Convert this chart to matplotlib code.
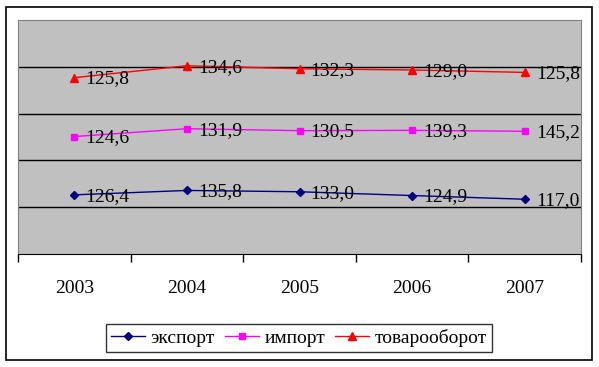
import matplotlib
matplotlib.use('Agg')
import matplotlib.pyplot as plt
import numpy as np

plt.rcParams['font.family'] = ['Liberation Serif', 'DejaVu Serif']

years = ['2003', '2004', '2005', '2006', '2007']
eksport = [126.4, 135.8, 133.0, 124.9, 117.0]
import_ = [124.6, 131.9, 130.5, 139.3, 145.2]
tovarooborot = [125.8, 134.6, 132.3, 129.0, 125.8]

series = [
    ('экспорт', eksport, '#000080', 'D', 4.5),
    ('импорт', import_, '#FF00FF', 's', 5),
    ('товарооборот', tovarooborot, '#FF0000', '^', 6),
]

fig = plt.figure(figsize=(5.99, 3.67), dpi=100)
ax = fig.add_axes([18 / 599, 1 - 254 / 367, 563 / 599, 234 / 367])
ax.set_facecolor('#C0C0C0')

x = np.arange(len(years))
base = np.zeros(len(years))
for name, vals, color, marker, ms in series:
    top = base + np.array(vals)
    ax.plot(x, top, color=color, lw=1, marker=marker, ms=ms, label=name, zorder=3)
    for xi, yi, v in zip(x, top, vals):
        ax.annotate(f'{v:.1f}'.replace('.', ','), (xi, yi), xytext=(8, -1),
                    textcoords='offset points', ha='left', va='center',
                    fontsize=14, zorder=4)
    base = top

ax.set_xlim(-0.5, 4.5)
ax.set_ylim(0, 500)
for g in [100, 200, 300, 400]:
    ax.axhline(g, color='black', lw=1, zorder=1)

ax.set_yticks([])
ax.set_xticks(x)
ax.set_xticklabels(years, fontsize=14)
ax.set_xticks(np.arange(-0.5, 5, 1), minor=True)
ax.tick_params(axis='x', which='major', length=0, pad=19)
ax.tick_params(axis='x', which='minor', length=6, width=1, color='black', direction='out')

for s in ['top', 'right', 'left']:
    ax.spines[s].set_color('#808080')
ax.spines['bottom'].set_color('black')

leg = fig.legend(loc='center', bbox_to_anchor=(299 / 599, 1 - 338 / 367), ncol=3,
                 fontsize=14, frameon=True, fancybox=False, edgecolor='black',
                 handlelength=1.75, handletextpad=0.3, columnspacing=0.5,
                 borderpad=0.25)
leg.get_frame().set_linewidth(1)

fig.patches.append(plt.Rectangle((6 / 599, 7 / 367), 586 / 599, 353 / 367,
                                 transform=fig.transFigure, fill=False,
                                 edgecolor='black', lw=1.2))

fig.savefig('out.png', dpi=100)
